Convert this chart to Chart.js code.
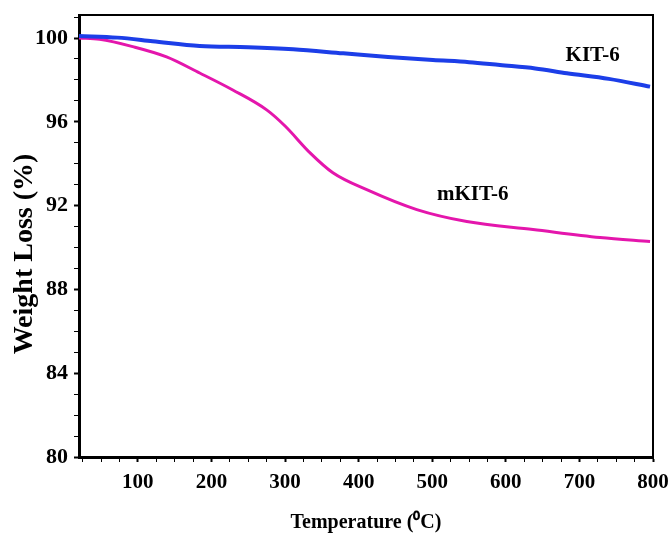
<!DOCTYPE html>
<html>
<head>
<meta charset="utf-8">
<script src="https://cdn.jsdelivr.net/npm/chart.js@4.4.1/dist/chart.umd.min.js"></script>
<style>
  html, body { margin: 0; padding: 0; background: #fff; }
  #wrap { width: 671px; height: 537px; }
</style>
</head>
<body>
<div id="wrap"><canvas id="tgaChart"></canvas></div>
<script>
// TGA curves
var kitTemp   = [20, 72, 120, 184, 250, 311, 379, 440, 501, 550, 592, 640, 683, 740, 796];
var kitWeight = [100.1, 100.02, 99.85, 99.62, 99.56, 99.46, 99.27, 99.1, 98.95, 98.85, 98.71, 98.55, 98.32, 98.05, 97.68];

var mkitTemp   = [20, 48, 93, 139, 184, 229, 275, 300, 334, 365, 411, 479, 547, 637, 728, 796];
var mkitWeight = [100.0, 99.94, 99.59, 99.1, 98.33, 97.52, 96.57, 95.8, 94.52, 93.57, 92.76, 91.81, 91.24, 90.86, 90.48, 90.29];

var seriesNames = ['KIT-6', 'mKIT-6'];
var labelPos = [[718, 99.14], [555, 92.52]];
var yTitle = 'Weight Loss (%)';

function toPoints(xs, ys) {
    return xs.map(function (x, i) { return { x: x, y: ys[i] }; });
}

var serif = "'Liberation Serif', 'Times New Roman', serif";

// curve names, y title and the top/right frame
var extras = {
    id: 'extras',
    afterDatasetsDraw: function (chart) {
        var ctx = chart.ctx;
        var xs = chart.scales.x, ys = chart.scales.y;
        var a = chart.chartArea;
        ctx.save();
        ctx.font = 'bold 21px ' + serif;
        ctx.fillStyle = '#000';
        ctx.textAlign = 'center';
        ctx.textBaseline = 'middle';
        seriesNames.forEach(function (name, i) {
            ctx.fillText(name, xs.getPixelForValue(labelPos[i][0]), ys.getPixelForValue(labelPos[i][1]));
        });

        ctx.save();
        ctx.translate(25, 254);
        ctx.rotate(-Math.PI / 2);
        ctx.font = 'bold 28px ' + serif;
        ctx.fillText(yTitle, 0, 0);
        ctx.restore();

        ctx.strokeStyle = '#000';
        ctx.lineWidth = 2;
        ctx.beginPath();
        ctx.moveTo(a.left, a.top);
        ctx.lineTo(a.right, a.top);
        ctx.lineTo(a.right, a.bottom);
        ctx.stroke();
        ctx.restore();
    }
};

var tgaCtx = document.getElementById('tgaChart').getContext('2d');
var tgaChart = new Chart(tgaCtx, {
    type: 'line',
    data: {
        datasets: [{
            label: seriesNames[0],
            data: toPoints(kitTemp, kitWeight),
            borderColor: 'rgb(28, 62, 232)',
            borderWidth: 4,
            pointRadius: 0,
            cubicInterpolationMode: 'monotone'
        }, {
            label: seriesNames[1],
            data: toPoints(mkitTemp, mkitWeight),
            borderColor: 'rgb(228, 22, 172)',
            borderWidth: 3,
            pointRadius: 0,
            cubicInterpolationMode: 'monotone'
        }]
    },
    options: {
        responsive: true,
        maintainAspectRatio: false,
        animation: false,
        layout: { padding: { top: 15, right: 18, left: 0, bottom: 0 } },
        plugins: {
            legend: { display: false },
            tooltip: { enabled: false }
        },
        scales: {
            x: {
                type: 'linear',
                min: 20,
                max: 800,
                afterFit: function (s) { s.height = 80; s.paddingLeft = 0; s.paddingRight = 0; },
                border: { color: '#000', width: 3 },
                grid: {
                    drawOnChartArea: false,
                    tickLength: 5,
                    tickColor: '#000',
                    tickWidth: function (c) { return c.tick && c.tick.value % 100 === 0 ? 2 : 1; }
                },
                ticks: {
                    stepSize: 25,
                    includeBounds: false,
                    autoSkip: false,
                    maxRotation: 0,
                    padding: 8,
                    color: '#000',
                    font: { family: serif, size: 21, weight: 'bold' },
                    callback: function (v) { return v % 100 === 0 ? v : ''; }
                },
                title: {
                    display: true,
                    text: 'Temperature (\u2070C)',
                    color: '#000',
                    font: { family: serif, size: 20, weight: 'bold' },
                    padding: { top: 0, bottom: 2 }
                }
            },
            y: {
                min: 80,
                max: 101.1,
                afterFit: function (s) { s.width = 79; s.paddingTop = 0; s.paddingBottom = 0; },
                border: { color: '#000', width: 3 },
                grid: {
                    drawOnChartArea: false,
                    tickLength: 5,
                    tickColor: '#000',
                    tickWidth: function (c) { return c.tick && c.tick.value % 4 === 0 ? 2 : 1; }
                },
                ticks: {
                    stepSize: 1,
                    includeBounds: false,
                    autoSkip: false,
                    padding: 6,
                    color: '#000',
                    font: { family: serif, size: 22, weight: 'bold' },
                    callback: function (v) { return v % 4 === 0 ? v : ''; }
                }
            }
        }
    },
    plugins: [extras]
});
</script>
</body>
</html>
